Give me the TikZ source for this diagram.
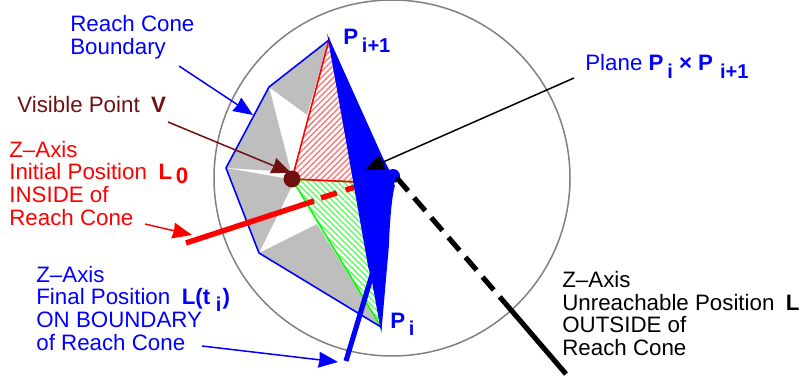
\documentclass[tikz,border=0pt]{standalone}
\usepackage{fontspec}
\setmainfont{Liberation Sans}
\usetikzlibrary{
    arrows.meta,
    patterns.meta
}
\definecolor{conegray}{RGB}{190,190,190}
\definecolor{spheregray}{RGB}{128,128,128}
\definecolor{visible}{RGB}{112,16,16}
\definecolor{redhatch}{RGB}{255,120,120}
\definecolor{greenhatch}{RGB}{90,255,90}
\newcommand{\lowtext}[1]{\raisebox{-4pt}{\fontsize{11.4}{12}\selectfont #1}}
\tikzset{
    facet/.style={fill=conegray},
    boundary/.style={draw=blue, line width=0.9pt},
    redface/.style={
        draw=red,
        line width=0.9pt,
        pattern={Lines[angle=45, distance=2.4pt, line width=0.8pt]},
        pattern color=redhatch
    },
    greenface/.style={
        draw=green,
        line width=0.9pt,
        pattern={Lines[angle=-45, distance=2.4pt, line width=0.8pt]},
        pattern color=greenhatch
    },
    axisline/.style={line width=2.9pt},
    pointer/.style={
        -{Stealth[length=11pt, width=9pt, inset=0.5pt]},
        line width=0.85pt
    },
    textlabel/.style={
        inner sep=0pt,
        font=\fontsize{12.7}{12.9}\selectfont,
        align=left,
        anchor=north west
    },
    vertexlabel/.style={
        inner sep=0pt,
        font=\fontsize{12.7}{12.9}\selectfont\bfseries,
        anchor=base west,
        text=blue
    }
}
\begin{document}
\begin{tikzpicture}
\useasboundingbox (0, 0) rectangle (16, 7.62);

% Sphere
\draw[draw=spheregray, line width=0.85pt] (7.84, 4.06) circle (3.56cm);

% Cone vertices
\coordinate (Pnext) at (6.58, 6.82);
\coordinate (Pcur) at (7.62, 1.08);
\coordinate (coneA) at (5.38, 5.88);
\coordinate (coneB) at (4.52, 4.26);
\coordinate (coneC) at (5.18, 2.56);
\coordinate (Vc) at (5.84, 4.04);

% Gray facets
\fill[facet] (coneA) -- (Pnext) -- (6.14, 5.32) -- cycle;
\fill[facet] (coneA) -- (coneB) -- (5.82, 4.18) -- cycle;
\fill[facet] (coneB) -- (5.68, 4.06) -- (5.84, 3.90) -- (coneC) -- cycle;
\fill[facet] (coneC) -- (6.34, 3.14) -- (Pcur) -- cycle;

% Hatched faces
\draw[greenface] (Vc) -- (7.20, 3.98) -- (Pcur) -- cycle;
\draw[redface] (Vc) -- (Pnext) -- (7.12, 3.98) -- cycle;

% Reach cone boundary
\draw[boundary] (Pnext) -- (coneA) -- (coneB) -- (coneC) -- (Pcur);

% Z-axis, initial position
\coordinate (redA) at (3.72, 2.76);
\coordinate (redB) at (6.28, 3.60);
\coordinate (redC) at (6.42, 3.66);
\coordinate (redD) at (7.10, 3.88);
\draw[axisline, draw=red, line width=3.1pt] (redA) -- (redB);
\draw[axisline, draw=red, line width=3.1pt, dash pattern=on 9.4pt off 5.4pt] (redC) -- (redD);

% Plane through P_i and P_i+1
\fill[blue] (7.86, 4.10) circle (0.14cm);
\draw[fill=blue, draw=blue, line width=0.9pt] (Pnext) -- (7.66, 4.42) -- (7.78, 4.20) -- (7.88, 3.90)
    .. controls (7.82, 3.70) and (7.78, 3.20) .. (7.76, 2.68)
    -- (Pcur) -- (7.44, 2.08) -- (7.38, 2.28) -- cycle;

% Z-axis, unreachable position
\coordinate (blackA) at (7.94, 4.06);
\coordinate (blackB) at (10.10, 1.56);
\coordinate (blackC) at (11.32, 0.14);
\draw[axisline, dash pattern=on 9.7pt off 5.2pt] (blackA) -- (blackB);
\draw[axisline] (blackB) -- (blackC);

% Z-axis, final position
\coordinate (blueA) at (7.48, 2.26);
\coordinate (blueB) at (6.92, 0.40);
\draw[axisline, draw=blue] (blueA) -- (blueB);

% Visible point
\node[circle, fill=visible, inner sep=0pt, minimum size=0.34cm] (visiblept) at (Vc) {};

% Labels
\node[textlabel, text=blue] (conelabel) at (1.40, 7.32) {Reach Cone\\Boundary};
\node[textlabel, text=visible, anchor=base west] (visiblelabel) at (0.34, 5.36) {Visible Point\hspace{3pt} \textbf{V}};
\node[textlabel, text=red] (initlabel) at (0.18, 4.81) {Z--Axis\\Initial Position\hspace{3pt} \textbf{L\,\raisebox{-2pt}{0}}\\INSIDE of\\Reach Cone};
\node[textlabel, text=blue] (finallabel) at (0.72, 2.31) {Z--Axis\\Final Position\hspace{3pt} \textbf{L(t\hspace{3.2pt}\lowtext{i}\hspace{0.6pt})}\\ON BOUNDARY\\of Reach Cone};
\node[textlabel, text=black] (outlabel) at (11.24, 2.20) {Z--Axis\\Unreachable Position\hspace{3pt} \textbf{L}\\OUTSIDE of\\Reach Cone};
\node[textlabel, text=blue, anchor=base west] (planelabel) at (11.70, 6.20) {Plane \textbf{P\,\lowtext{i} × P\hspace{4pt}\lowtext{i+1}}};
\node[vertexlabel] (Pnextlabel) at (6.86, 6.72) {P\,\lowtext{i+1}};
\node[vertexlabel] (Pcurlabel) at (7.80, 1.06) {P\,\lowtext{i}};

% Pointers
\coordinate (tailcone) at (3.58, 6.30);
\coordinate (tipcone) at (5.06, 5.32);
\coordinate (tailvis) at (3.36, 5.18);
\coordinate (tipvis) at (5.82, 4.16);
\coordinate (tailinit) at (2.90, 3.14);
\coordinate (tipinit) at (3.84, 2.92);
\coordinate (tailfinal) at (4.04, 0.70);
\coordinate (tipfinal) at (6.76, 0.38);
\coordinate (tailplane) at (11.48, 6.06);
\coordinate (tipplane) at (7.30, 4.22);
\draw[pointer, draw=blue] (tailcone) -- (tipcone);
\draw[pointer, draw=visible] (tailvis) -- (tipvis);
\draw[pointer, draw=red] (tailinit) -- (tipinit);
\draw[pointer, draw=blue] (tailfinal) -- (tipfinal);
\draw[pointer, draw=black] (tailplane) -- (tipplane);
\end{tikzpicture}
\end{document}
